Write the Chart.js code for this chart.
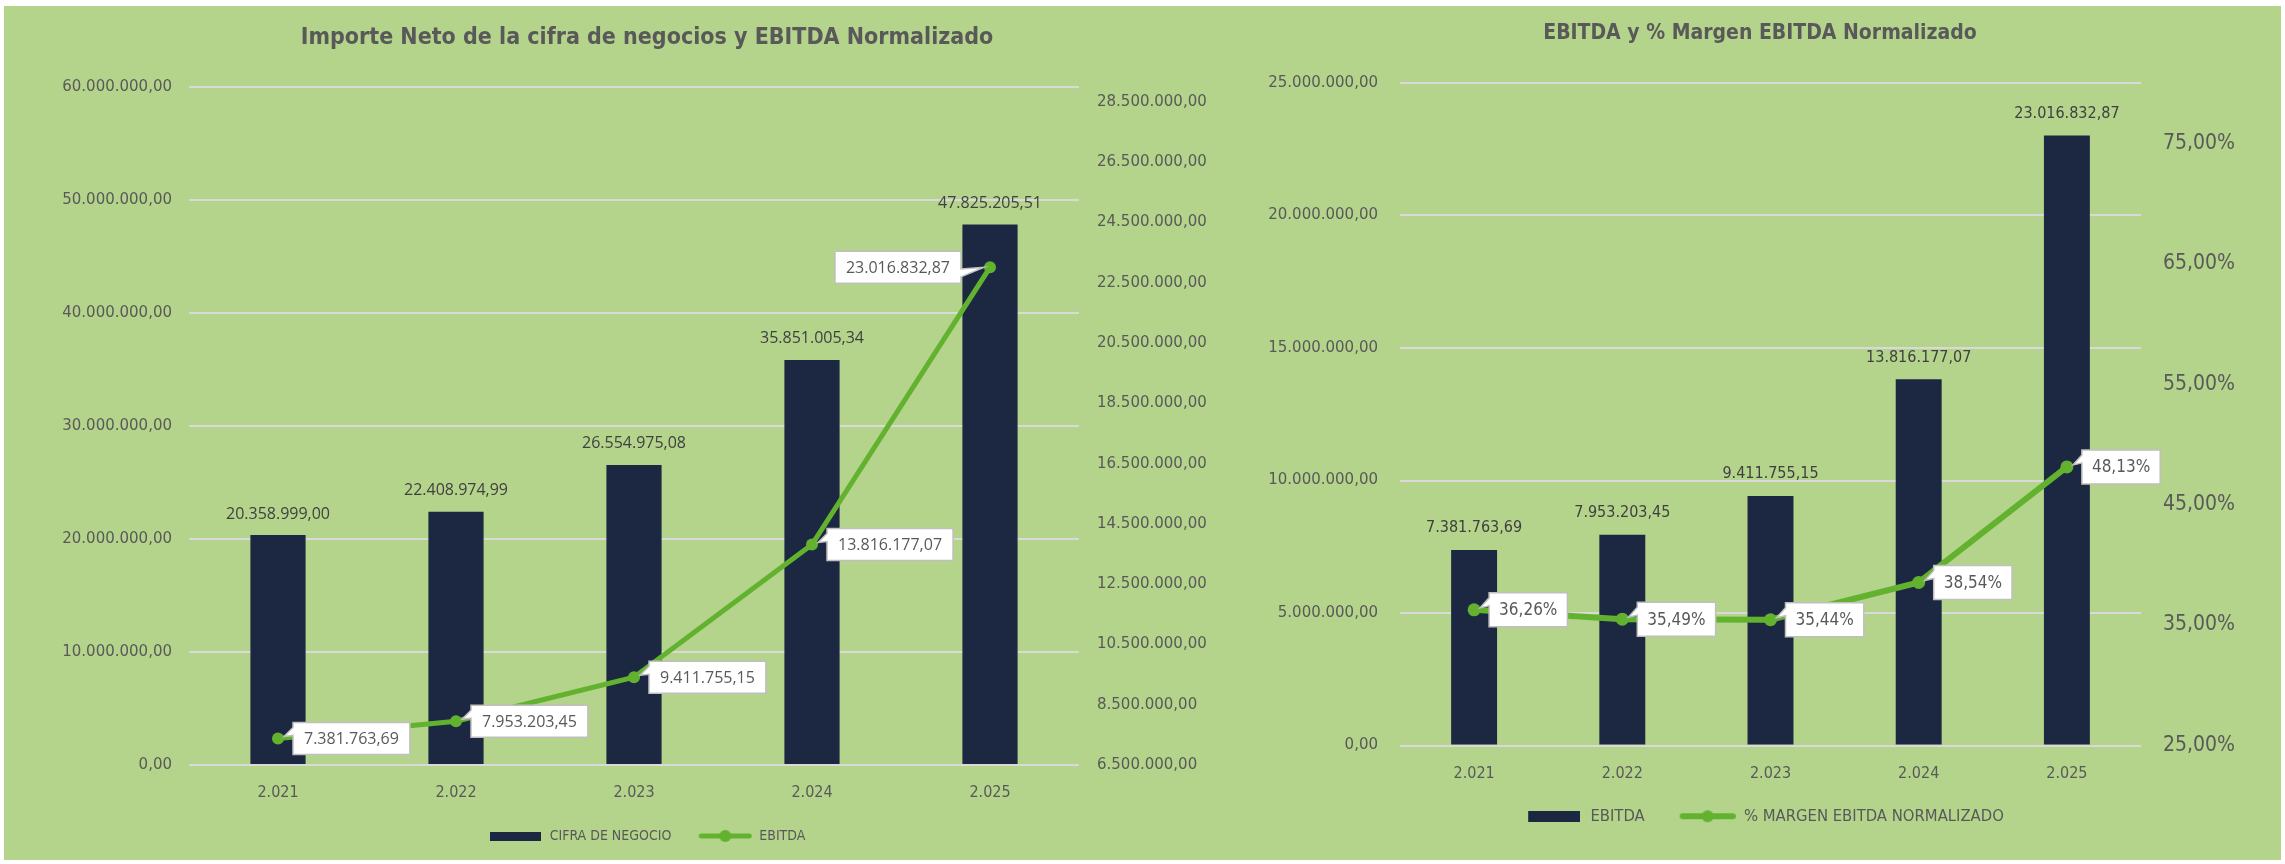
<!DOCTYPE html>
<html>
<head>
<meta charset="utf-8">
<script src="https://cdn.jsdelivr.net/npm/chart.js@4.4.1/dist/chart.umd.min.js"></script>
<style>
  html, body { margin: 0; padding: 0; background: #fff; }
  body { width: 2285px; height: 864px; position: relative; overflow: hidden; }
  #bg { position: absolute; left: 4px; top: 6px; width: 2277px; height: 854px; background: #b4d48c; }
  #leftChart { position: absolute; left: 4px; top: 6px; width: 1286px; height: 854px; }
  #rightChart { position: absolute; left: 1239px; top: 6px; width: 1042px; height: 854px; }
</style>
</head>
<body>
<div id="bg"></div>
<canvas id="leftChart" width="1286" height="854"></canvas>
<canvas id="rightChart" width="1042" height="854"></canvas>
<script>
const years = ['2.021', '2.022', '2.023', '2.024', '2.025'];
const cifraNegocio = [20358999.00, 22408974.99, 26554975.08, 35851005.34, 47825205.51];
const ebitda = [7381763.69, 7953203.45, 9411755.15, 13816177.07, 23016832.87];
const margenEbitda = [36.26, 35.49, 35.44, 38.54, 48.13];

const cifraTicks = [0, 10000000, 20000000, 30000000, 40000000, 50000000, 60000000];
const ebitdaTicksSecondary = [6500000, 8500000, 10500000, 12500000, 14500000, 16500000,
  18500000, 20500000, 22500000, 24500000, 26500000, 28500000];
const ebitdaTicks = [0, 5000000, 10000000, 15000000, 20000000, 25000000];
const margenTicks = [25, 35, 45, 55, 65, 75];

const NAVY = '#1c2841';
const GREEN = '#63b22f';
const GRID = '#d9d9d9';
const TEXT = '#595959';
const LABEL = '#404040';
const WIDE = "'DejaVu Sans', Verdana, sans-serif";
const NARROW = "'DejaVu Sans Condensed', 'Liberation Sans Narrow', 'Roboto Condensed', sans-serif";
const UI = "'Open Sans', 'Noto Sans', sans-serif";

const fmt = (v) => v.toLocaleString('de-DE', { minimumFractionDigits: 2, maximumFractionDigits: 2 });
const fmtPct = (v) => fmt(v) + '%';
const fixedTicks = (list) => (scale) => { scale.ticks = list.map((value) => ({ value })); };

// legend swatches; "margin" leaves empty room on the left to widen the gap between items
function legendRect(w, h, margin = 0) {
  const c = document.createElement('canvas');
  c.width = w + margin; c.height = h;
  const g = c.getContext('2d');
  g.fillStyle = NAVY;
  g.fillRect(margin, 0, w, h);
  return c;
}

function legendLine(w, lw, margin = 0) {
  const c = document.createElement('canvas');
  c.width = w + margin; c.height = 14;
  const g = c.getContext('2d');
  g.strokeStyle = GREEN;
  g.lineWidth = lw;
  g.lineCap = 'round';
  g.beginPath();
  g.moveTo(margin + 3, 7);
  g.lineTo(margin + w - 3, 7);
  g.stroke();
  g.fillStyle = GREEN;
  g.beginPath();
  g.arc(margin + w / 2, 7, 6, 0, Math.PI * 2);
  g.fill();
  return c;
}

function drawBox(ctx) {
  ctx.fillStyle = '#ffffff';
  ctx.fill();
  ctx.strokeStyle = '#bfbfbf';
  ctx.lineWidth = 1.5;
  ctx.stroke();
}

function drawCallout(ctx, px, py, text, side, o) {
  ctx.font = o.font;
  const w = ctx.measureText(text).width + o.padX * 2;
  const h = o.h;
  const by = py - h / 2;
  let bx;
  ctx.beginPath();
  if (side === 'right') {
    bx = px + o.gap;
    ctx.moveTo(bx, by);
    ctx.lineTo(bx + w, by);
    ctx.lineTo(bx + w, by + h);
    ctx.lineTo(bx, by + h);
    ctx.lineTo(bx, by + 13);
    ctx.lineTo(px + 6, py - 2);
    ctx.lineTo(bx, by + 5);
  } else {
    bx = px - o.gapLeft - w;
    ctx.moveTo(bx, by);
    ctx.lineTo(bx + w, by);
    ctx.lineTo(bx + w, by + h * 0.55);
    ctx.lineTo(px - 6, py);
    ctx.lineTo(bx + w, by + h * 0.8);
    ctx.lineTo(bx + w, by + h);
    ctx.lineTo(bx, by + h);
  }
  ctx.closePath();
  drawBox(ctx);
  ctx.fillStyle = TEXT;
  ctx.textAlign = 'center';
  ctx.textBaseline = 'middle';
  ctx.fillText(text, bx + w / 2, py + 1);
}

const calloutLabels = {
  id: 'calloutLabels',
  afterDatasetsDraw(chart, args, opts) {
    const ctx = chart.ctx;
    ctx.save();
    chart.data.datasets.forEach((ds, di) => {
      const meta = chart.getDatasetMeta(di);
      meta.data.forEach((el, i) => {
        if (ds.type === 'bar') {
          ctx.font = opts.barFont;
          ctx.fillStyle = LABEL;
          ctx.textAlign = 'center';
          ctx.textBaseline = 'middle';
          ctx.fillText(fmt(ds.data[i]), el.x, el.y - opts.barOffset);
        } else {
          const side = opts.leftSide.includes(i) ? 'left' : 'right';
          drawCallout(ctx, el.x, el.y, opts.format(ds.data[i]), side, opts.box);
        }
      });
    });
    ctx.restore();
  },
};

function legendOptions(gap, size, images) {
  return {
    position: 'bottom',
    labels: {
      usePointStyle: true,
      pointStyleWidth: images[1].width,
      padding: gap,
      color: TEXT,
      font: { family: NARROW, size },
      sort: (a, b) => a.datasetIndex - b.datasetIndex,
      generateLabels: (chart) => {
        const items = Chart.defaults.plugins.legend.labels.generateLabels(chart);
        items.forEach((it) => { it.pointStyle = images[it.datasetIndex]; it.rotation = 0; });
        return items;
      },
    },
  };
}

new Chart(document.getElementById('leftChart'), {
  data: {
    labels: years,
    datasets: [
      {
        type: 'bar',
        label: 'CIFRA DE NEGOCIO',
        data: cifraNegocio,
        backgroundColor: NAVY,
        yAxisID: 'y',
        order: 1,
        categoryPercentage: 1,
        barPercentage: 0.31,
      },
      {
        type: 'line',
        label: 'EBITDA',
        data: ebitda,
        borderColor: GREEN,
        backgroundColor: GREEN,
        borderWidth: 5,
        pointRadius: 6,
        pointBorderWidth: 0,
        pointBackgroundColor: GREEN,
        yAxisID: 'y1',
        order: 0,
      },
    ],
  },
  options: {
    responsive: false,
    animation: false,
    layout: { padding: { left: 0, right: 0, top: 0, bottom: 7 } },
    scales: {
      x: {
        grid: { display: false },
        border: { display: false },
        ticks: { color: TEXT, font: { family: NARROW, size: 16 }, padding: 10 },
        afterFit: (s) => { s.height = 37; },
      },
      y: {
        position: 'left',
        min: 0,
        max: 60000000,
        afterBuildTicks: fixedTicks(cifraTicks),
        grid: { color: GRID, lineWidth: 2, drawTicks: false },
        border: { display: false },
        ticks: { color: TEXT, font: { family: WIDE, size: 15 }, padding: 17, callback: (v) => fmt(v) },
        afterFit: (s) => { s.width = 185; },
      },
      y1: {
        position: 'right',
        min: 6500000,
        max: 29000000,
        afterBuildTicks: fixedTicks(ebitdaTicksSecondary),
        grid: { display: false, drawTicks: false },
        border: { display: false },
        ticks: { color: TEXT, font: { family: WIDE, size: 15 }, padding: 18, callback: (v) => fmt(v) },
        afterFit: (s) => { s.width = 211; },
      },
    },
    plugins: {
      title: {
        display: true,
        text: 'Importe Neto de la cifra de negocios y EBITDA Normalizado',
        color: TEXT,
        font: { family: NARROW, size: 23, weight: 'bold' },
        padding: { top: 18.7, bottom: 34.7 },
      },
      legend: legendOptions(27, 14, [legendRect(51, 9), legendLine(54, 5)]),
      tooltip: { enabled: false },
      calloutLabels: {
        barFont: '16px ' + UI,
        barOffset: 21,
        leftSide: [4],
        format: fmt,
        box: { font: '16px ' + UI, h: 32, padX: 11, gap: 15, gapLeft: 29 },
      },
    },
  },
  plugins: [calloutLabels],
});

new Chart(document.getElementById('rightChart'), {
  data: {
    labels: years,
    datasets: [
      {
        type: 'bar',
        label: 'EBITDA',
        data: ebitda,
        backgroundColor: NAVY,
        yAxisID: 'y',
        order: 1,
        categoryPercentage: 1,
        barPercentage: 0.31,
      },
      {
        type: 'line',
        label: '% MARGEN EBITDA NORMALIZADO',
        data: margenEbitda,
        borderColor: GREEN,
        backgroundColor: GREEN,
        borderWidth: 6,
        pointRadius: 6.5,
        pointBorderWidth: 0,
        pointBackgroundColor: GREEN,
        yAxisID: 'y1',
        order: 0,
      },
    ],
  },
  options: {
    responsive: false,
    animation: false,
    layout: { padding: { left: 0, right: 0, top: 0, bottom: 25.5 } },
    scales: {
      x: {
        grid: { display: false },
        border: { display: false },
        ticks: { color: TEXT, font: { family: NARROW, size: 16 }, padding: 11 },
        afterFit: (s) => { s.height = 37.5; },
      },
      y: {
        position: 'left',
        min: 0,
        max: 25000000,
        afterBuildTicks: fixedTicks(ebitdaTicks),
        grid: { color: GRID, lineWidth: 2, drawTicks: false },
        border: { display: false },
        ticks: { color: TEXT, font: { family: WIDE, size: 15 }, padding: 22, callback: (v) => fmt(v) },
        afterFit: (s) => { s.width = 161; },
      },
      y1: {
        position: 'right',
        min: 25,
        max: 80,
        afterBuildTicks: fixedTicks(margenTicks),
        grid: { display: false, drawTicks: false },
        border: { display: false },
        ticks: { color: TEXT, font: { family: NARROW, size: 21 }, padding: 22, callback: (v) => fmtPct(v) },
        afterFit: (s) => { s.width = 140; },
      },
    },
    plugins: {
      title: {
        display: true,
        text: 'EBITDA y % Margen EBITDA Normalizado',
        color: TEXT,
        font: { family: NARROW, size: 21, weight: 'bold' },
        padding: { top: 14.9, bottom: 36.9 },
      },
      legend: legendOptions(25, 16.5, [legendRect(52, 11, 10), legendLine(56, 6, 10)]),
      tooltip: { enabled: false },
      calloutLabels: {
        barFont: '16px ' + NARROW,
        barOffset: 22,
        leftSide: [],
        format: fmtPct,
        box: { font: '17px ' + NARROW, h: 34, padX: 10, gap: 15, gapLeft: 29 },
      },
    },
  },
  plugins: [calloutLabels],
});
</script>
</body>
</html>
